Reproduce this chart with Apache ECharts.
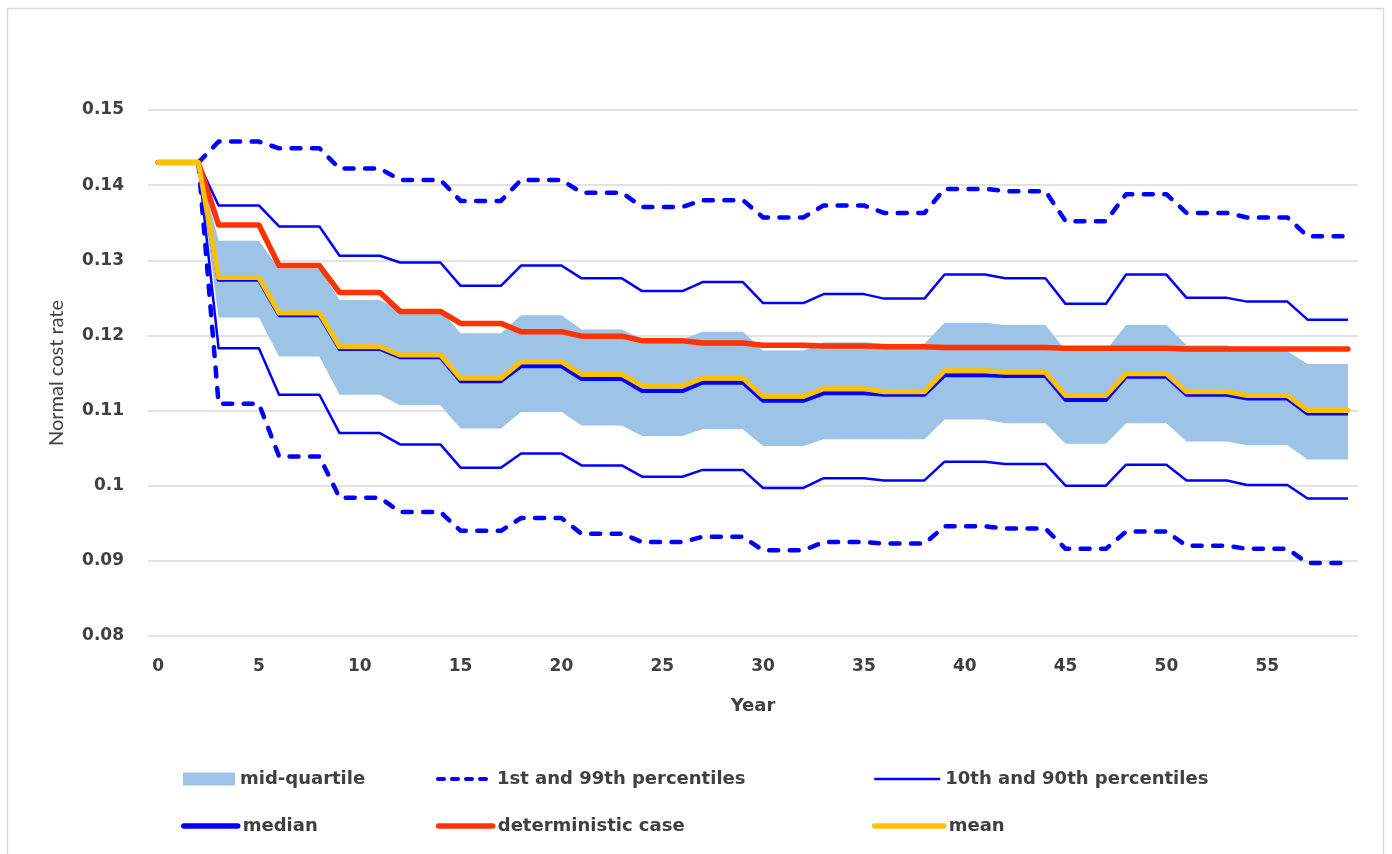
<!DOCTYPE html>
<html>
<head>
<meta charset="utf-8">
<script src="https://cdn.jsdelivr.net/npm/echarts@6/dist/echarts.min.js"></script>
<style>
  html, body { margin: 0; padding: 0; background: #ffffff; }
  #chart { width: 1392px; height: 854px; }
</style>
</head>
<body>
<div id="chart"></div>
<script>
// Projection years
const years = [0,1,2,3,4,5,6,7,8,9,10,11,12,13,14,15,16,17,18,19,20,21,22,23,24,25,26,27,28,29,
  30,31,32,33,34,35,36,37,38,39,40,41,42,43,44,45,46,47,48,49,50,51,52,53,54,55,56,57,58,59];

// 99th percentile of the normal cost rate
const p99 = [0.143,0.143,0.143, 0.1458,0.1458,0.1458, 0.1449,0.1449,0.1449, 0.1422,0.1422,0.1422,
  0.1407,0.1407,0.1407, 0.1379,0.1379,0.1379, 0.1407,0.1407,0.1407, 0.1390,0.1390,0.1390,
  0.1371,0.1371,0.1371, 0.1380,0.1380,0.1380, 0.1357,0.1357,0.1357, 0.1373,0.1373,0.1373,
  0.1363,0.1363,0.1363, 0.1395,0.1395,0.1395, 0.1392,0.1392,0.1392, 0.1352,0.1352,0.1352,
  0.1388,0.1388,0.1388, 0.1363,0.1363,0.1363, 0.1357,0.1357,0.1357, 0.1332,0.1332,0.1332];

// 90th percentile
const p90 = [0.143,0.143,0.143, 0.1373,0.1373,0.1373, 0.1345,0.1345,0.1345, 0.1306,0.1306,0.1306,
  0.1297,0.1297,0.1297, 0.1266,0.1266,0.1266, 0.1293,0.1293,0.1293, 0.1276,0.1276,0.1276,
  0.1259,0.1259,0.1259, 0.1271,0.1271,0.1271, 0.1243,0.1243,0.1243, 0.1255,0.1255,0.1255,
  0.1249,0.1249,0.1249, 0.1281,0.1281,0.1281, 0.1276,0.1276,0.1276, 0.1242,0.1242,0.1242,
  0.1281,0.1281,0.1281, 0.1250,0.1250,0.1250, 0.1245,0.1245,0.1245, 0.1221,0.1221,0.1221];

// 75th percentile (top of the mid-quartile band)
const q75 = [0.143,0.143,0.143, 0.1326,0.1326,0.1326, 0.1289,0.1289,0.1289, 0.1247,0.1247,0.1247,
  0.1234,0.1234,0.1234, 0.1203,0.1203,0.1203, 0.1227,0.1227,0.1227, 0.1208,0.1208,0.1208,
  0.1195,0.1195,0.1195, 0.1205,0.1205,0.1205, 0.1180,0.1180,0.1180, 0.1191,0.1191,0.1191,
  0.1189,0.1189,0.1189, 0.1217,0.1217,0.1217, 0.1214,0.1214,0.1214, 0.1180,0.1180,0.1180,
  0.1214,0.1214,0.1214, 0.1187,0.1187,0.1187, 0.1179,0.1179,0.1179, 0.1162,0.1162,0.1162];

// Median
const median = [0.143,0.143,0.143, 0.1274,0.1274,0.1274, 0.1227,0.1227,0.1227, 0.1182,0.1182,0.1182,
  0.1171,0.1171,0.1171, 0.1139,0.1139,0.1139, 0.1159,0.1159,0.1159, 0.1142,0.1142,0.1142,
  0.1126,0.1126,0.1126, 0.1137,0.1137,0.1137, 0.1113,0.1113,0.1113, 0.1123,0.1123,0.1123,
  0.1121,0.1121,0.1121, 0.1147,0.1147,0.1147, 0.1146,0.1146,0.1146, 0.1114,0.1114,0.1114,
  0.1145,0.1145,0.1145, 0.1121,0.1121,0.1121, 0.1116,0.1116,0.1116, 0.1096,0.1096,0.1096];

// Mean
const mean = [0.143,0.143,0.143, 0.1277,0.1277,0.1277, 0.1230,0.1230,0.1230, 0.1185,0.1185,0.1185,
  0.1174,0.1174,0.1174, 0.1143,0.1143,0.1143, 0.1165,0.1165,0.1165, 0.1148,0.1148,0.1148,
  0.1133,0.1133,0.1133, 0.1143,0.1143,0.1143, 0.1119,0.1119,0.1119, 0.1129,0.1129,0.1129,
  0.1125,0.1125,0.1125, 0.1153,0.1153,0.1153, 0.1151,0.1151,0.1151, 0.1120,0.1120,0.1120,
  0.1149,0.1149,0.1149, 0.1125,0.1125,0.1125, 0.1120,0.1120,0.1120, 0.1100,0.1100,0.1100];

// 25th percentile (bottom of the mid-quartile band)
const q25 = [0.143,0.143,0.143, 0.1224,0.1224,0.1224, 0.1172,0.1172,0.1172, 0.1121,0.1121,0.1121,
  0.1107,0.1107,0.1107, 0.1076,0.1076,0.1076, 0.1098,0.1098,0.1098, 0.1080,0.1080,0.1080,
  0.1066,0.1066,0.1066, 0.1075,0.1075,0.1075, 0.1053,0.1053,0.1053, 0.1062,0.1062,0.1062,
  0.1062,0.1062,0.1062, 0.1088,0.1088,0.1088, 0.1083,0.1083,0.1083, 0.1056,0.1056,0.1056,
  0.1083,0.1083,0.1083, 0.1059,0.1059,0.1059, 0.1054,0.1054,0.1054, 0.1035,0.1035,0.1035];

// 10th percentile
const p10 = [0.143,0.143,0.143, 0.1183,0.1183,0.1183, 0.1121,0.1121,0.1121, 0.1070,0.1070,0.1070,
  0.1055,0.1055,0.1055, 0.1024,0.1024,0.1024, 0.1043,0.1043,0.1043, 0.1027,0.1027,0.1027,
  0.1012,0.1012,0.1012, 0.1021,0.1021,0.1021, 0.0997,0.0997,0.0997, 0.1010,0.1010,0.1010,
  0.1007,0.1007,0.1007, 0.1032,0.1032,0.1032, 0.1029,0.1029,0.1029, 0.1000,0.1000,0.1000,
  0.1028,0.1028,0.1028, 0.1007,0.1007,0.1007, 0.1001,0.1001,0.1001, 0.0983,0.0983,0.0983];

// 1st percentile
const p1 = [0.143,0.143,0.143, 0.1109,0.1109,0.1109, 0.1039,0.1039,0.1039, 0.0984,0.0984,0.0984,
  0.0965,0.0965,0.0965, 0.0940,0.0940,0.0940, 0.0957,0.0957,0.0957, 0.0936,0.0936,0.0936,
  0.0925,0.0925,0.0925, 0.0932,0.0932,0.0932, 0.0914,0.0914,0.0914, 0.0925,0.0925,0.0925,
  0.0923,0.0923,0.0923, 0.0946,0.0946,0.0946, 0.0943,0.0943,0.0943, 0.0916,0.0916,0.0916,
  0.0939,0.0939,0.0939, 0.0920,0.0920,0.0920, 0.0916,0.0916,0.0916, 0.0897,0.0897,0.0897];

// Deterministic projection
const deterministic = [0.143,0.143,0.143, 0.1347,0.1347,0.1347, 0.1293,0.1293,0.1293, 0.1257,0.1257,0.1257,
  0.1232,0.1232,0.1232, 0.1216,0.1216,0.1216, 0.1205,0.1205,0.1205, 0.1199,0.1199,0.1199,
  0.1193,0.1193,0.1193, 0.1190,0.1190,0.1190, 0.1187,0.1187,0.1187, 0.1186,0.1186,0.1186,
  0.1185,0.1185,0.1185, 0.1184,0.1184,0.1184, 0.1184,0.1184,0.1184, 0.1183,0.1183,0.1183,
  0.1183,0.1183,0.1183, 0.1182,0.1182,0.1182, 0.1182,0.1182,0.1182, 0.1182,0.1182,0.1182];

const BLUE = '#0000FF';
const BAND = '#9DC3E6';
const RED = '#FF3300';
const GOLD = '#FFC000';
const TEXT = '#404040';
const WIDE = '"DejaVu Sans", sans-serif';
const TITLE = 'Lato, "Open Sans", sans-serif';

// Band thickness for the stacked area (75th minus 25th percentile)
const bandHeight = q75.map((v, i) => +(v - q25[i]).toFixed(6));

const chart = echarts.init(document.getElementById('chart'), null, { renderer: 'canvas' });

function legendAt(name, left, top, opts) {
  return Object.assign({
    data: [name],
    left: left,
    top: top,
    orient: 'horizontal',
    padding: 0,
    itemGap: 0,
    itemWidth: 54,
    itemHeight: 14,
    selectedMode: false,
    itemStyle: { opacity: 0 },
    textStyle: { fontFamily: WIDE, fontSize: 18, fontWeight: 'bold', color: TEXT, lineHeight: 20 }
  }, opts || {});
}

const lineCommon = {
  type: 'line',
  symbol: 'none',
  showSymbol: false,
  silent: true,
  animation: false
};

chart.setOption({
  backgroundColor: '#ffffff',
  animation: false,
  graphic: [{
    type: 'rect',
    shape: { x: 7.5, y: 8.5, width: 1376, height: 900 },
    style: { fill: 'none', stroke: '#D9D9D9', lineWidth: 1.5 },
    silent: true,
    z: -10
  }],
  grid: { left: 148, right: 34, top: 110, bottom: 218, containLabel: false },
  xAxis: {
    type: 'category',
    data: years,
    boundaryGap: true,
    name: 'Year',
    nameLocation: 'middle',
    nameGap: 61,
    nameTextStyle: { fontFamily: WIDE, fontSize: 18, fontWeight: 'bold', color: TEXT },
    axisLine: { show: false },
    axisTick: { show: false },
    axisLabel: {
      interval: 4,
      margin: 22,
      fontFamily: WIDE, fontSize: 17, fontWeight: 'bold', color: TEXT
    },
    splitLine: { show: false }
  },
  yAxis: {
    type: 'value',
    min: 0.08,
    max: 0.15,
    interval: 0.01,
    name: 'Normal cost rate',
    nameLocation: 'middle',
    nameGap: 81,
    nameTextStyle: { fontFamily: TITLE, fontSize: 20, color: TEXT },
    axisLine: { show: false },
    axisTick: { show: false },
    axisLabel: {
      margin: 24,
      fontFamily: WIDE, fontSize: 17, fontWeight: 'bold', color: TEXT,
      formatter: v => String(+v.toFixed(4))
    },
    splitLine: { lineStyle: { color: '#D9D9D9', width: 1.5 } }
  },
  legend: [
    legendAt('mid-quartile', 183, 769, { icon: 'rect', itemWidth: 52, itemHeight: 13, itemStyle: { color: BAND } }),
    legendAt('1st and 99th percentiles', 436, 769, { lineStyle: { width: 4, type: [6, 8], cap: 'round' } }),
    legendAt('10th and 90th percentiles', 873, 769, { itemWidth: 66, lineStyle: { width: 2.5 } }),
    legendAt('median', 181, 816, { lineStyle: { width: 5.5, cap: 'round' } }),
    legendAt('deterministic case', 436, 816, { lineStyle: { width: 5.5, cap: 'round' } }),
    legendAt('mean', 872, 816, { itemWidth: 69, lineStyle: { width: 5.5, cap: 'round' } })
  ],
  series: [
    Object.assign({}, lineCommon, {
      name: 'band base',
      data: q25,
      stack: 'band',
      lineStyle: { width: 0, opacity: 0 },
      itemStyle: { color: BAND },
      z: 1
    }),
    Object.assign({}, lineCommon, {
      name: 'mid-quartile',
      data: bandHeight,
      stack: 'band',
      lineStyle: { width: 0, opacity: 0 },
      itemStyle: { color: BAND },
      areaStyle: { color: BAND, opacity: 1 },
      z: 1
    }),
    Object.assign({}, lineCommon, {
      name: '1st and 99th percentiles',
      data: p99,
      itemStyle: { color: BLUE },
      lineStyle: { color: BLUE, width: 4.5, type: [9, 11.5], cap: 'round', join: 'round' },
      z: 2
    }),
    Object.assign({}, lineCommon, {
      name: '1st and 99th percentiles',
      data: p1,
      itemStyle: { color: BLUE },
      lineStyle: { color: BLUE, width: 4.5, type: [9, 11.5], cap: 'round', join: 'round' },
      z: 2
    }),
    Object.assign({}, lineCommon, {
      name: '10th and 90th percentiles',
      data: p90,
      itemStyle: { color: BLUE },
      lineStyle: { color: BLUE, width: 2.5, join: 'round' },
      z: 3
    }),
    Object.assign({}, lineCommon, {
      name: '10th and 90th percentiles',
      data: p10,
      itemStyle: { color: BLUE },
      lineStyle: { color: BLUE, width: 2.5, join: 'round' },
      z: 3
    }),
    Object.assign({}, lineCommon, {
      name: 'median',
      data: median,
      itemStyle: { color: BLUE },
      lineStyle: { color: BLUE, width: 4, join: 'round' },
      z: 4
    }),
    Object.assign({}, lineCommon, {
      name: 'deterministic case',
      data: deterministic,
      itemStyle: { color: RED },
      lineStyle: { color: RED, width: 5.5, cap: 'round', join: 'round' },
      z: 5
    }),
    Object.assign({}, lineCommon, {
      name: 'mean',
      data: mean,
      itemStyle: { color: GOLD },
      lineStyle: { color: GOLD, width: 5, cap: 'round', join: 'round' },
      z: 6
    })
  ]
});
</script>
</body>
</html>
